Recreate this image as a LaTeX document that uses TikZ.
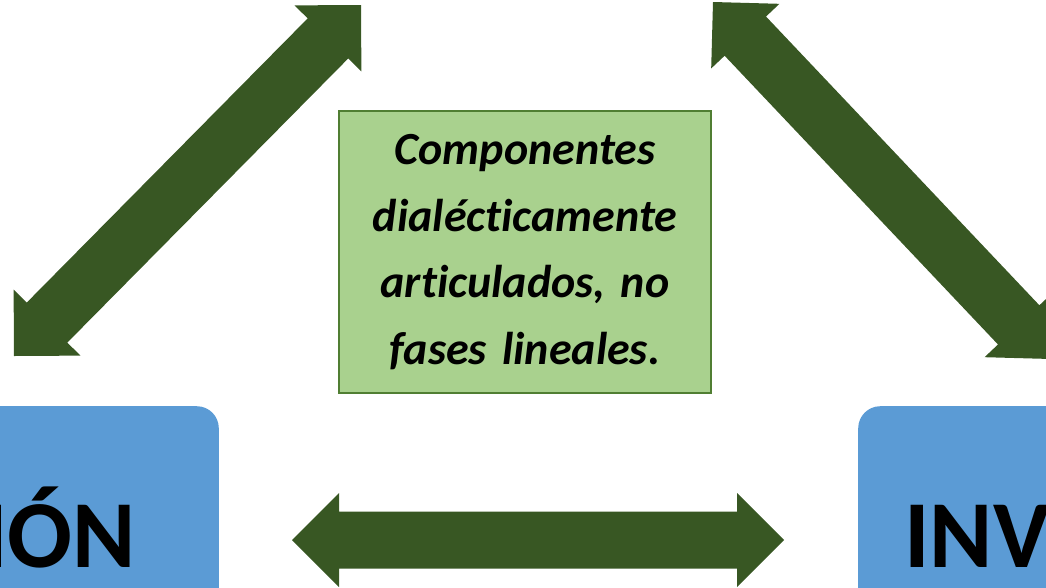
\documentclass[tikz,border=0pt]{standalone}
\usepackage{fontspec}
\setmainfont[Ligatures=NoCommon]{Carlito}
\usetikzlibrary{calc}
\definecolor{arrowgreen}{RGB}{56, 87, 35}
\definecolor{boxgreen}{RGB}{169, 209, 142}
\definecolor{edgegreen}{RGB}{80, 126, 50}
\definecolor{boxblue}{RGB}{91, 155, 213}
% block arrow with a head at each end, between two tips
\newcommand{\duoarrow}[2]{%
  \fill[arrowgreen] (#1)
    -- ($(#1)!47pt!(#2)!47pt!90:(#2)$) -- ($(#1)!47pt!(#2)!28.5pt!90:(#2)$)
    -- ($(#2)!47pt!(#1)!28.5pt!-90:(#1)$) -- ($(#2)!47pt!(#1)!47pt!-90:(#1)$)
    -- (#2)
    -- ($(#2)!47pt!(#1)!47pt!90:(#1)$) -- ($(#2)!47pt!(#1)!28.5pt!90:(#1)$)
    -- ($(#1)!47pt!(#2)!28.5pt!-90:(#2)$) -- ($(#1)!47pt!(#2)!47pt!-90:(#2)$)
    -- cycle;}

\begin{document}
\begin{tikzpicture}[x=1pt, y=-1pt,
    bluebox/.style={fill=boxblue, rounded corners=22pt, minimum width=320pt, minimum height=260pt},
    bigtext/.style={font=\bfseries\fontsize{96}{100}\selectfont},
    notebox/.style={draw=edgegreen, line width=1.2pt, fill=boxgreen, minimum width=372pt, minimum height=282pt,
      text width=365pt, align=center, font=\bfseries\itshape\fontsize{46}{66.7}\selectfont}]
      \useasboundingbox (0,0) rectangle (1046,587);
      \clip (0,0) rectangle (1046,587);

      % Boxes
      \node[bluebox, anchor=north east] (formacion) at (219,406) {};
      \node[bluebox, anchor=north west] (investigacion) at (858,406) {};
      \node[bigtext, anchor=base east, inner sep=0pt] (formtext) at (136,567) {IÓN};
      \node[bigtext, anchor=base west, inner sep=0pt] (invtext) at (904,567) {INV};
      \node[notebox] (note) at (525,252) {Componentes\\dialécticamente\\articulados, no\\fases lineales.};

      % Arrow tips
      \coordinate (tlA) at (14,356);
      \coordinate (tlB) at (361,5);
      \coordinate (trA) at (713,2);
      \coordinate (trB) at (1051,359);
      \coordinate (btA) at (292,540);
      \coordinate (btB) at (784,540);

      % Arrows
      \duoarrow{tlA}{tlB}
      \duoarrow{trA}{trB}
      \duoarrow{btA}{btB}
    \end{tikzpicture}
\end{document}
